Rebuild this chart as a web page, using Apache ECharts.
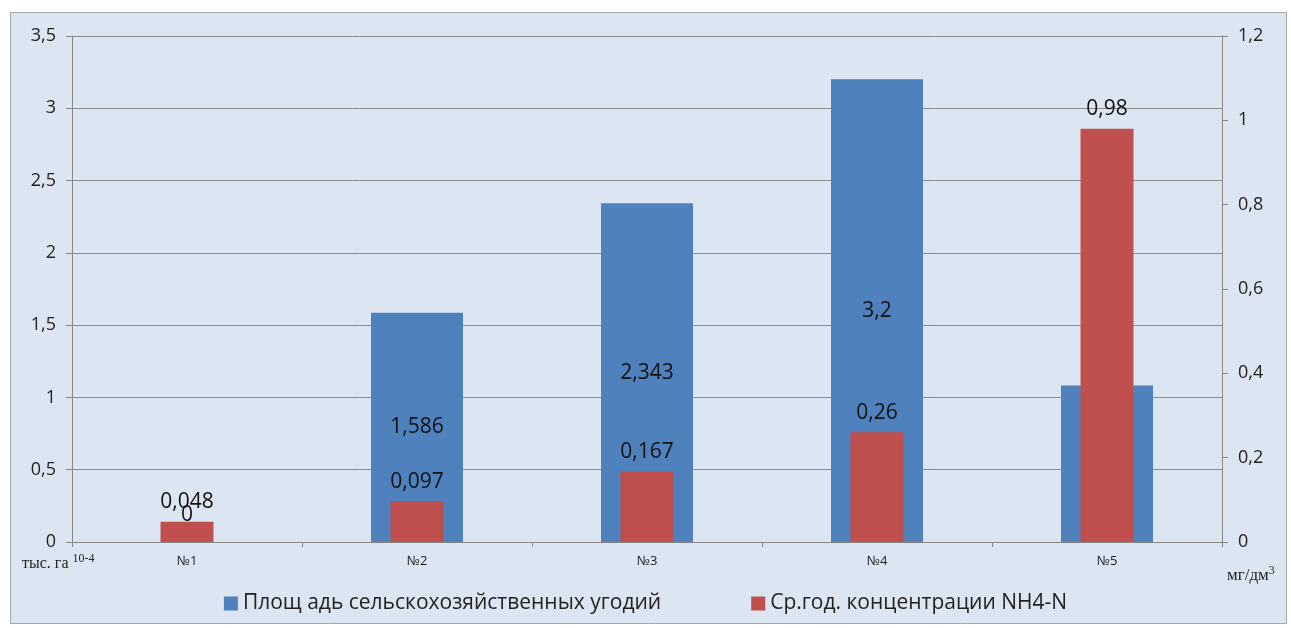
<!DOCTYPE html>
<html><head><meta charset="utf-8">
<script src="https://cdn.jsdelivr.net/npm/echarts@6/dist/echarts.min.js"></script>
<style>html,body{margin:0;padding:0;background:#fff}#c{width:1291px;height:628px}</style>
</head><body><div id="c"></div>
<script>
const categories = ['№1','№2','№3','№4','№5'];
const areaValues = [0, 1.586, 2.343, 3.2, 1.082];
const concValues = [0.048, 0.097, 0.167, 0.26, 0.98];
const leftTicks = {min:0, max:3.5, interval:0.5};
const rightTicks = {min:0, max:1.2, interval:0.2};
const seriesNames = ['Площ адь сельскохозяйственных угодий', 'Ср.год. концентрации NH4-N'];

const fmt = v => String(v).replace('.', ',');
const font = '"Open Sans", "Noto Sans", sans-serif';
const serif = '"Liberation Serif", serif';
const chart = echarts.init(document.getElementById('c'));
chart.setOption({
  animation:false,
  backgroundColor:'#ffffff',
  graphic:[
    {type:'rect', z:-10, shape:{x:10.5,y:12.5,width:1276,height:611}, style:{fill:'#dce6f2', stroke:'#a6a6a6', lineWidth:1}},
    {type:'text', left:22, top:553, style:{text:'{a|тыс. га }{b|10-4}', rich:{a:{fontFamily:serif, fontSize:16, fill:'#222'}, b:{fontFamily:serif, fontSize:12, fill:'#222', padding:[0,0,9,0]}}}},
    {type:'text', left:1227, top:565, style:{text:'{a|мг/дм}{b|3}', rich:{a:{fontFamily:serif, fontSize:17, fill:'#222'}, b:{fontFamily:serif, fontSize:12, fill:'#222', padding:[0,0,9,0]}}}}
  ],
  grid:{left:72, right:69, top:36, bottom:86},
  legend:{
    bottom:9, left:'center', itemWidth:14, itemHeight:14, itemGap:90,
    icon:'rect',
    textStyle:{fontFamily:font, fontSize:21, color:'#222'},
    data:seriesNames
  },
  xAxis:[
    {type:'category', data:categories, axisLine:{lineStyle:{color:'#868686'}},
     axisTick:{show:true, length:5, lineStyle:{color:'#868686'}},
     axisLabel:{fontFamily:font, fontSize:13, color:'#222', margin:13}},
    {type:'category', data:categories, show:false}
  ],
  yAxis:[
    {type:'value', min:leftTicks.min, max:leftTicks.max, interval:leftTicks.interval,
     axisLine:{show:true, lineStyle:{color:'#868686'}},
     axisTick:{show:true, length:6, lineStyle:{color:'#868686'}},
     splitLine:{lineStyle:{color:'#8c8c8c'}},
     axisLabel:{fontFamily:font, fontSize:18, color:'#222', margin:16, formatter:fmt}},
    {type:'value', min:rightTicks.min, max:rightTicks.max, interval:rightTicks.interval, position:'right',
     axisLine:{show:true, lineStyle:{color:'#868686'}},
     axisTick:{show:true, length:6, lineStyle:{color:'#868686'}},
     splitLine:{show:false},
     axisLabel:{fontFamily:font, fontSize:18, color:'#222', margin:16, formatter:fmt}}
  ],
  series:[
    {name:seriesNames[0], type:'bar', xAxisIndex:0, yAxisIndex:0, barWidth:92,
     itemStyle:{color:'#4f81bd'},
     data:areaValues.map((v,i)=> i===0 ? {value:v, label:{position:'top', distance:16}} : v),
     label:{show:true, position:'inside', fontFamily:font, fontSize:21, color:'#111', formatter:p=>fmt(p.value)}},
    {name:seriesNames[1], type:'bar', xAxisIndex:1, yAxisIndex:1, barWidth:53,
     itemStyle:{color:'#c0504d'}, z:3,
     data:concValues,
     label:{show:true, position:'top', distance:9, fontFamily:font, fontSize:21, color:'#111', formatter:p=>fmt(p.value)}}
  ]
});
</script></body></html>
